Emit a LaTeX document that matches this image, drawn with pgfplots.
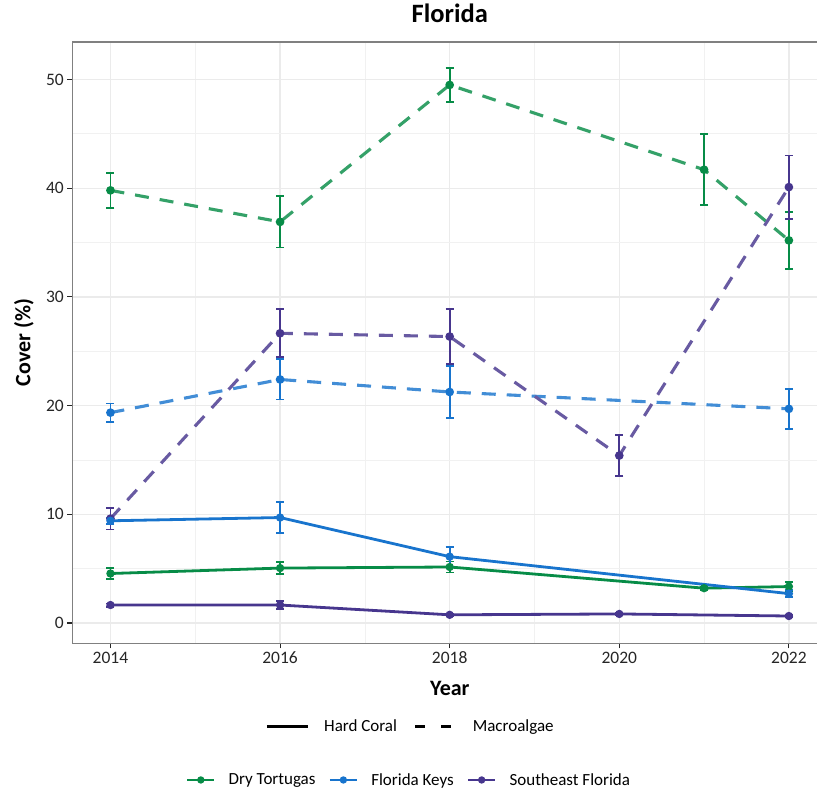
\documentclass[border=0pt]{standalone}
\usepackage{fontspec}
\setmainfont{Carlito}
\usepackage{pgfplots}
\pgfplotsset{compat=1.18}

\definecolor{dtgreen}{HTML}{078C47}
\definecolor{fkblue}{HTML}{1874CD}
\definecolor{sepurple}{HTML}{47368E}
\definecolor{gridc}{HTML}{EBEBEB}

\pgfplotsset{
  ebar/.style={error bars/y dir=both, error bars/y explicit,
    error bars/error bar style={line width=1.8pt, solid, color=#1},
    error bars/error mark options={rotate=90, mark size=4pt, line width=1.8pt, solid, color=#1}},
  coral/.style={color=#1, line width=2.8pt, mark=*, mark size=2.7pt,
    mark options={solid, fill=#1, draw=#1}, forget plot, ebar=#1},
  algae/.style={color=#1!82!white, line width=3.1pt, dash pattern=on 14pt off 11pt,
    mark=*, mark size=2.7pt, mark options={solid, fill=#1, draw=#1}, forget plot, ebar=#1},
  common/.style={at={(72.3pt,150.7pt)}, anchor=south west,
    scale only axis, width=750.5pt, height=601.3pt,
    xmin=2013.55, xmax=2022.4, ymin=-1.87, ymax=53.45},
}

\newcommand{\lfont}{\fontsize{17}{20}\selectfont}
\newcommand{\tfont}{\fontsize{17.5}{20}\selectfont}

\begin{document}
\begin{tikzpicture}[x=1pt,y=1pt]
\path[use as bounding box] (0,0) rectangle (817,794);

\begin{axis}[
  common,
  axis line style={color=black!50, line width=1.3pt},
  xtick={2014,2016,...,2022},
  minor xtick={2015,2017,2019,2021},
  ytick={0,10,...,50},
  minor ytick={5,15,25,35,45},
  grid=both,
  major grid style={gridc, line width=1.3pt},
  minor grid style={gridc!70!white, line width=0.7pt},
  tick align=outside, xtick pos=bottom, ytick pos=left,
  major tick length=5pt, minor tick length=0pt,
  tick style={black!85, line width=1.1pt},
  /pgf/number format/.cd, 1000 sep={}, assume math mode=true, /pgfplots/.cd,
  ticklabel style={font=\tfont, text=black!85},
  title={Florida},
  title style={at={(axis description cs:0.503,1.0385)}, anchor=center, font=\fontsize{26.5}{30}\selectfont\bfseries},
  xlabel={Year},
  xlabel style={at={(axis description cs:0.503,-0.0755)}, anchor=center, font=\fontsize{22}{26}\selectfont\bfseries},
  ylabel={Cover (\%)},
  ylabel style={at={(axis description cs:-0.0644,0.5)}, anchor=center, rotate=0, font=\fontsize{22}{26}\selectfont\bfseries},
  legend style={at={(axis description cs:0.4473,-0.2273)}, anchor=center, draw=none, fill=none,
    font=\lfont, nodes={inner sep=0pt}},
  legend columns=-1,
  legend cell align=left,
  legend image code/.code={\draw[#1] (0pt,0pt) -- (27pt,0pt); \fill[#1] (13.5pt,0pt) circle (2.2pt);},
  /tikz/every even column/.append style={column sep=13pt},
  /tikz/every odd column/.append style={column sep=13pt},
]
% Macroalgae
\addplot[algae=dtgreen] coordinates {
  (2014,39.8) +- (0,1.6)
  (2016,36.9) +- (0,2.35)
  (2018,49.5) +- (0,1.55)
  (2021,41.7) +- (0,3.25)
  (2022,35.2) +- (0,2.6)
};
\addplot[algae=fkblue] coordinates {
  (2014,19.35) +- (0,0.85)
  (2016,22.4) +- (0,1.85)
  (2018,21.25) +- (0,2.4)
  (2022,19.7) +- (0,1.85)
};
\addplot[algae=sepurple] coordinates {
  (2014,9.6) +- (0,1.0)
  (2016,26.65) +- (0,2.2)
  (2018,26.35) +- (0,2.55)
  (2020,15.4) +- (0,1.9)
  (2022,40.1) +- (0,2.9)
};
% Hard coral
\addplot[coral=dtgreen] coordinates {
  (2014,4.55) +- (0,0.5)
  (2016,5.05) +- (0,0.55)
  (2018,5.15) +- (0,0.5)
  (2021,3.2) +- (0,0.15)
  (2022,3.35) +- (0,0.4)
};
\addplot[coral=fkblue] coordinates {
  (2014,9.4) +- (0,0.3)
  (2016,9.7) +- (0,1.4)
  (2018,6.1) +- (0,0.9)
  (2022,2.7) +- (0,0.3)
};
\addplot[coral=sepurple] coordinates {
  (2014,1.65) +- (0,0.15)
  (2016,1.65) +- (0,0.35)
  (2018,0.75) +- (0,0.1)
  (2020,0.83) +- (0,0.12)
  (2022,0.64) +- (0,0.1)
};
\addlegendimage{color=dtgreen, line width=2.8pt}
\addlegendentry{Dry Tortugas}
\addlegendimage{color=fkblue, line width=2.8pt}
\addlegendentry{Florida Keys}
\addlegendimage{color=sepurple, line width=2.8pt}
\addlegendentry{Southeast Florida}
\end{axis}

\begin{axis}[
  common, hide axis,
  legend style={at={(axis description cs:0.4493,-0.1387)}, anchor=center, draw=none, fill=none,
    font=\lfont, nodes={inner sep=0pt}},
  legend columns=-1,
  legend cell align=left,
  legend image code/.code={\draw[#1] (0pt,0pt) -- (41pt,0pt);},
  /tikz/every even column/.append style={column sep=17pt},
  /tikz/every odd column/.append style={column sep=15pt},
]
\addlegendimage{color=black, line width=2.8pt}
\addlegendentry{Hard Coral}
\addlegendimage{color=black, line width=2.8pt, dash pattern=on 10pt off 16pt}
\addlegendentry{Macroalgae}
\end{axis}
\end{tikzpicture}
\end{document}
